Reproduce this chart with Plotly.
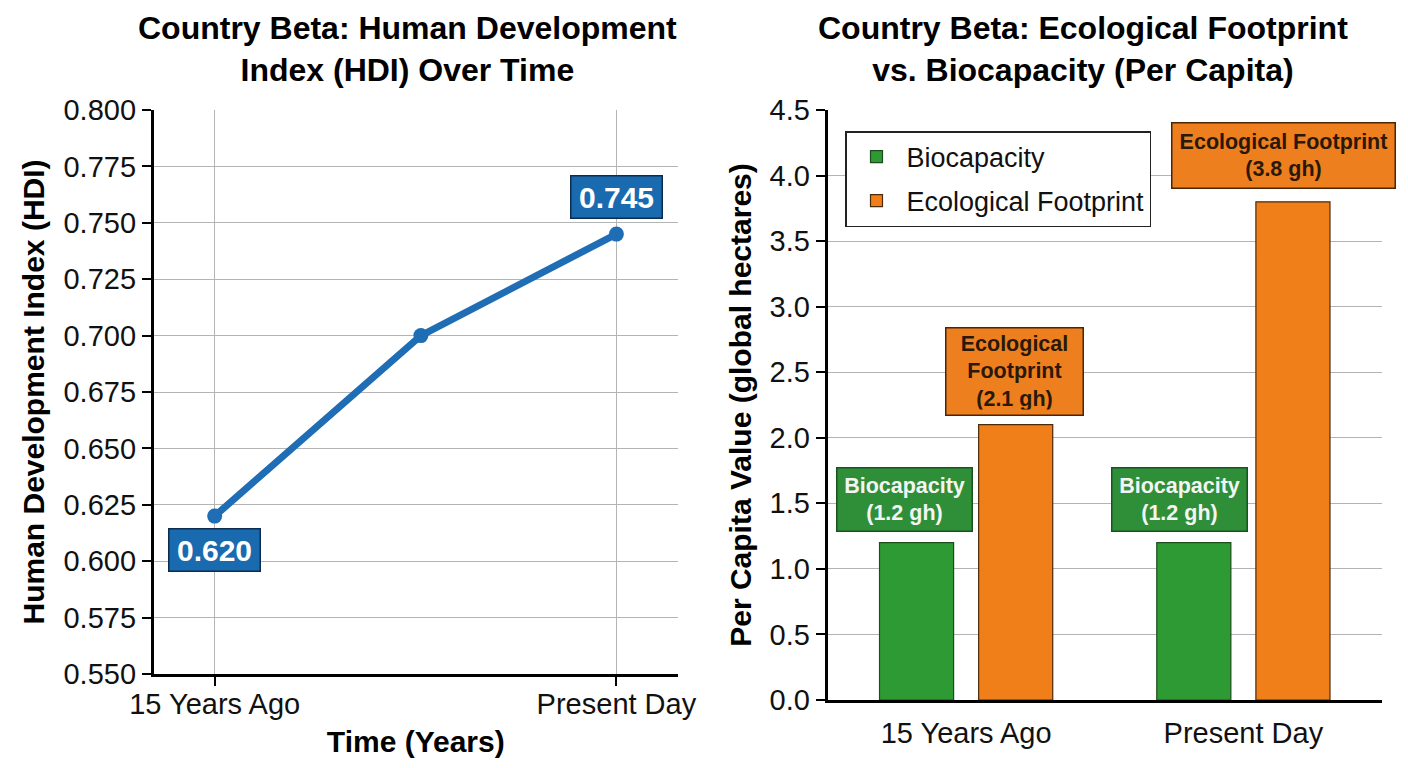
import plotly.graph_objects as go

# ---------------- data ----------------
hdi_years = [0, 7.7, 15]                # position on the time axis (years since start)
hdi_values = [0.620, 0.700, 0.745]
hdi_tick_vals = [0, 15]
hdi_tick_text = ["15 Years Ago", "Present Day"]
hdi_label_idx = [0, 2]                   # points that carry a value label

periods = ["15 Years Ago", "Present Day"]
biocapacity = [1.2, 1.2]
footprint = [2.1, 3.8]

# ---------------- styles ----------------
FONT = "Liberation Sans"
BLUE = "#1f6db4"
BLUE_BOX = "#1a6ab0"
GREEN = "#2e9a34"
GREEN_BOX = "#2f8f38"
ORANGE = "#f07f1a"
ORANGE_BOX = "#ee7f1e"
GRID = "#b4b4b4"

W, H = 1408, 768
OX, OY = 8, 8   # page offset of the figure inside the browser window


def px_x(p):
    return (p - OX) / W


def px_y(p):
    return 1 - (p - OY) / H


fig = go.Figure()

# HDI line
fig.add_trace(go.Scatter(
    x=hdi_years, y=hdi_values, mode="lines+markers",
    line=dict(color=BLUE, width=7), marker=dict(color=BLUE, size=15),
    showlegend=False, xaxis="x", yaxis="y", hoverinfo="x+y"))

# Bars
fig.add_trace(go.Bar(
    x=periods, y=biocapacity, name="Biocapacity",
    marker=dict(color=GREEN, line=dict(color="#1d4d1d", width=1.2)),
    xaxis="x2", yaxis="y2", legendgroup="a"))
fig.add_trace(go.Bar(
    x=periods, y=footprint, name="Ecological Footprint",
    marker=dict(color=ORANGE, line=dict(color="#4a2a0a", width=1.2)),
    xaxis="x2", yaxis="y2", legendgroup="b"))

annotations = []

# HDI value labels
for k, i in enumerate(hdi_label_idx):
    above = (k == len(hdi_label_idx) - 1)
    annotations.append(dict(
        x=hdi_years[i], y=hdi_values[i], xref="x", yref="y",
        text=f"<b>{hdi_values[i]:.3f}</b>", showarrow=False,
        font=dict(family=FONT, size=30, color="white"),
        bgcolor=BLUE_BOX, bordercolor="#0c2c50", borderwidth=1.5, borderpad=5,
        width=80, height=31,
        yanchor="bottom" if above else "top",
        yshift=15 if above else -12))

# Bar labels
bar_label_cfg = [
    # (series values, name text, bg, border, text colour, xshift per period, width, height, yshift)
    (biocapacity, "Biocapacity", GREEN_BOX, "#1b5220", "#f4f4f4",
     [-62, -64], [124, 124], [52, 52], [11, 11]),
    (footprint, "Ecological Footprint", ORANGE_BOX, "#4a2506", "#2a1808",
     [48, 40], [126, 212], [76, 54], [9, 13]),
]
for vals, nm, bg, bc, tc, xs, ws, hs, ys in bar_label_cfg:
    for j, p in enumerate(periods):
        if nm == "Ecological Footprint" and j == 0:
            txt = f"<b>Ecological<br>Footprint<br>({vals[j]:.1f} gh)</b>"
        else:
            txt = f"<b>{nm}<br>({vals[j]:.1f} gh)</b>"
        annotations.append(dict(
            x=p, y=vals[j], xref="x2", yref="y2", text=txt, showarrow=False,
            font=dict(family=FONT, size=21.5, color=tc),
            bgcolor=bg, bordercolor=bc, borderwidth=1.5, borderpad=5,
            width=ws[j], height=hs[j],
            yanchor="bottom", xshift=xs[j], yshift=ys[j]))

# Titles
annotations.append(dict(
    x=px_x(407), y=px_y(8), xref="paper", yref="paper", xanchor="center", yanchor="top",
    text="Country Beta: Human Development<br>Index (HDI) Over Time", showarrow=False,
    font=dict(family=FONT, size=32, color="black", weight="bold")))
annotations.append(dict(
    x=px_x(1083), y=px_y(8), xref="paper", yref="paper", xanchor="center", yanchor="top",
    text="Country Beta: Ecological Footprint<br>vs. Biocapacity (Per Capita)", showarrow=False,
    font=dict(family=FONT, size=32, color="black", weight="bold")))

tick_font = dict(family=FONT, size=29, color="#111111")
title_font = dict(family=FONT, size=30, color="black", weight="bold")

fig.update_layout(
    width=W, height=H,
    margin=dict(l=0, r=0, t=0, b=0),
    paper_bgcolor="white", plot_bgcolor="white",
    barmode="group", bargap=0.285, bargroupgap=0.2525,
    annotations=annotations,
    legend=dict(
        x=px_x(845), y=px_y(131), xanchor="left", yanchor="top",
        bgcolor="white", bordercolor="#222222", borderwidth=1.5,
        font=dict(family=FONT, size=27, color="#111111"),
        tracegroupgap=6, itemwidth=50),
    xaxis=dict(
        domain=[px_x(153.6), px_x(678)], range=[-2.28, 17.3], automargin=False,
        tickvals=hdi_tick_vals, ticktext=hdi_tick_text,
        showgrid=True, gridcolor=GRID, gridwidth=1,
        showline=True, linecolor="black", linewidth=2.5,
        ticks="outside", ticklen=9, tickwidth=2, tickcolor="black",
        tickfont=tick_font, zeroline=False, ticklabelstandoff=-7,
        title=dict(text="Time (Years)", font=title_font, standoff=13)),
    yaxis=dict(
        domain=[px_y(674), px_y(110)], range=[0.55, 0.80], automargin=False,
        dtick=0.025, tickformat=".3f",
        showgrid=True, gridcolor=GRID, gridwidth=1,
        showline=True, linecolor="black", linewidth=2.5,
        ticks="outside", ticklen=9, tickwidth=2, tickcolor="black",
        tickfont=tick_font, zeroline=False,
        title=dict(text="Human Development Index (HDI)", font=title_font, standoff=10)),
    xaxis2=dict(
        domain=[px_x(827.5), px_x(1382)], anchor="y2", automargin=False,
        range=[-0.5, 1.5],
        showgrid=False, showline=True, linecolor="black", linewidth=2.5,
        ticks="", tickfont=tick_font, ticklabelstandoff=5),
    yaxis2=dict(
        domain=[px_y(700), px_y(110)], anchor="x2", range=[0, 4.5], automargin=False,
        dtick=0.5, tickformat=".1f",
        showgrid=True, gridcolor=GRID, gridwidth=1,
        showline=True, linecolor="black", linewidth=2.5,
        ticks="outside", ticklen=9, tickwidth=2, tickcolor="black",
        tickfont=tick_font, zeroline=False,
        title=dict(text="Per Capita Value (global hectares)", font=title_font, standoff=10)),
)

fig.write_html("out.html")
